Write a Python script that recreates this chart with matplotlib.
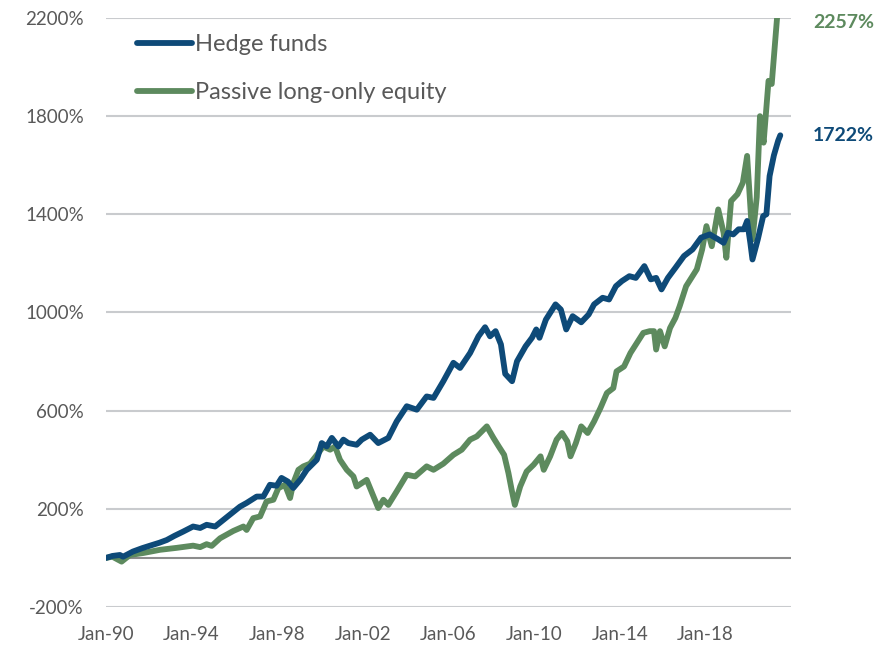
import numpy as np
import matplotlib
matplotlib.use("Agg")
import matplotlib.pyplot as plt

# cumulative return (%), x in decimal years
hf_year = [1990.0, 1990.3, 1990.65, 1990.8, 1991.26, 1991.7, 1992.06, 1992.5, 1992.84, 1993.2,
           1993.6, 1994.07, 1994.4, 1994.7, 1995.1, 1995.6, 1996.26, 1996.57, 1997.04, 1997.35,
           1997.66, 1997.97, 1998.2, 1998.5, 1998.75, 1999.07, 1999.38, 1999.85, 2000.08, 2000.31,
           2000.55, 2000.86, 2001.09, 2001.32, 2001.71, 2001.95, 2002.34, 2002.72, 2003.19, 2003.58,
           2004.05, 2004.52, 2004.98, 2005.3, 2005.76, 2006.23, 2006.54, 2007.01, 2007.4, 2007.71,
           2007.94, 2008.2, 2008.45, 2008.65, 2008.97, 2009.2, 2009.6, 2009.9, 2010.1, 2010.25,
           2010.55, 2011.0, 2011.25, 2011.5, 2011.8, 2012.2, 2012.55, 2012.8, 2013.2, 2013.5,
           2013.82, 2014.1, 2014.45, 2014.75, 2015.15, 2015.45, 2015.7, 2015.95, 2016.25, 2016.6,
           2017.0, 2017.4, 2017.8, 2018.2, 2018.6, 2018.85, 2019.05, 2019.3, 2019.55, 2019.8,
           2019.95, 2020.1, 2020.2, 2020.45, 2020.7, 2020.85, 2021.0, 2021.2, 2021.4, 2021.5]
hf_val = [0, 8, 12, 5, 26, 40, 50, 62, 73, 90,
          107, 128, 122, 135, 128, 163, 209, 224, 250, 250,
          298, 294, 326, 311, 285, 318, 359, 400, 468, 454,
          489, 454, 482, 468, 461, 482, 502, 468, 489, 556,
          618, 604, 658, 652, 720, 795, 774, 835, 903, 940,
          903, 924, 870, 750, 720, 801, 862, 897, 931, 897,
          971, 1033, 1012, 931, 985, 960, 992, 1033, 1060, 1053,
          1107, 1128, 1148, 1141, 1189, 1135, 1141, 1094, 1141, 1182,
          1230, 1257, 1305, 1318, 1298, 1284, 1325, 1318, 1339, 1339,
          1373, 1284, 1216, 1298, 1393, 1400, 1556, 1640, 1700, 1722]

eq_year = [1990.0, 1990.3, 1990.73, 1991.12, 1991.74, 1992.52, 1993.3, 1994.07, 1994.4, 1994.7,
           1994.94, 1995.33, 1995.95, 1996.42, 1996.57, 1996.88, 1997.2, 1997.5, 1997.82, 1998.05,
           1998.36, 1998.6, 1998.75, 1998.99, 1999.22, 1999.53, 1999.92, 2000.15, 2000.47, 2000.7,
           2000.93, 2001.25, 2001.56, 2001.71, 2002.18, 2002.5, 2002.72, 2002.96, 2003.19, 2003.58,
           2004.05, 2004.44, 2004.98, 2005.3, 2005.76, 2006.23, 2006.62, 2007.01, 2007.32, 2007.79,
           2008.1, 2008.35, 2008.6, 2008.8, 2008.95, 2009.1, 2009.35, 2009.65, 2009.98, 2010.3,
           2010.45, 2010.75, 2011.05, 2011.3, 2011.55, 2011.7, 2011.95, 2012.2, 2012.5, 2012.8,
           2013.1, 2013.4, 2013.7, 2013.85, 2014.2, 2014.5, 2014.8, 2015.1, 2015.4, 2015.6,
           2015.7, 2015.88, 2016.1, 2016.35, 2016.6, 2016.8, 2017.1, 2017.6, 2017.85, 2018.05,
           2018.3, 2018.6, 2018.85, 2018.98, 2019.2, 2019.5, 2019.75, 2019.95, 2020.2, 2020.4,
           2020.55, 2020.72, 2020.95, 2021.1, 2021.35, 2021.5]
eq_val = [0, 5, -15, 12, 20, 33, 41, 50, 44, 56,
          49, 80, 110, 128, 114, 162, 169, 230, 237, 284,
          298, 244, 305, 359, 373, 384, 427, 454, 441, 454,
          400, 359, 332, 291, 318, 250, 203, 237, 216, 271,
          339, 332, 373, 359, 384, 420, 441, 482, 495, 536,
          489, 454, 420, 346, 278, 216, 291, 352, 380, 414,
          359, 414, 482, 509, 475, 414, 468, 536, 509, 556,
          611, 672, 692, 760, 780, 835, 876, 917, 924, 924,
          849, 924, 862, 937, 978, 1026, 1107, 1176, 1257, 1352,
          1270, 1420, 1325, 1223, 1454, 1482, 1529, 1638, 1298, 1470,
          1800, 1692, 1944, 1931, 2202, 2257]

xtick_pos = [1990, 1994, 1998, 2002, 2006, 2010, 2014, 2018]
xtick_lab = ["Jan-90", "Jan-94", "Jan-98", "Jan-02", "Jan-06", "Jan-10", "Jan-14", "Jan-18"]
ytick_pos = [-200, 200, 600, 1000, 1400, 1800, 2200]

blue = "#0E4A78"
green = "#5D8A5E"
grey = "#595959"

plt.rcParams['font.family'] = ['Lato', 'DejaVu Sans']

fig = plt.figure(figsize=(8.95, 6.49), dpi=100)
ax = fig.add_axes([0.1184, 0.0647, 0.7654, 0.9076])

for y in ytick_pos:
    ax.axhline(y, color="#C9CBCE", lw=1.5, zorder=1)
ax.axhline(0, color="#8C8C8C", lw=1.5, zorder=1)

ax.plot(hf_year, hf_val, color=blue, lw=4.2, label="Hedge funds", zorder=3,
        solid_joinstyle="round", solid_capstyle="round")
ax.plot(eq_year, eq_val, color=green, lw=4.2, label="Passive long-only equity", zorder=2,
        solid_joinstyle="round", solid_capstyle="round")

ax.set_xlim(1990, 2022)
ax.set_ylim(-200, 2200)
ax.set_xticks(xtick_pos)
ax.set_xticklabels(xtick_lab)
ax.set_yticks(ytick_pos)
ax.set_yticklabels([f"{v}%" for v in ytick_pos])
ax.tick_params(axis="both", length=0, labelsize=13.5, colors=grey)
ax.tick_params(axis="x", pad=14)
ax.tick_params(axis="y", pad=16)
for s in ax.spines.values():
    s.set_visible(False)

# end labels
ax.annotate(f"{eq_val[-1]}%", xy=(1, min(eq_val[-1], 2180)), xycoords=("axes fraction", "data"),
            xytext=(16, 0), textcoords="offset points", va="center", ha="left",
            color=green, fontsize=14, fontweight="bold", annotation_clip=False)
ax.annotate(f"{hf_val[-1]}%", xy=(1, hf_val[-1]), xycoords=("axes fraction", "data"),
            xytext=(16, 0), textcoords="offset points", va="center", ha="left",
            color=blue, fontsize=14, fontweight="bold", annotation_clip=False)

leg = ax.legend(loc="upper left", bbox_to_anchor=(0.032, 0.988), frameon=False,
                borderaxespad=0, fontsize=17, handlelength=2.3, handletextpad=0.15,
                labelspacing=1.12)
for line in leg.get_lines():
    line.set_linewidth(4.2)
for t in leg.get_texts():
    t.set_color(grey)

fig.savefig("out.png", dpi=100)
